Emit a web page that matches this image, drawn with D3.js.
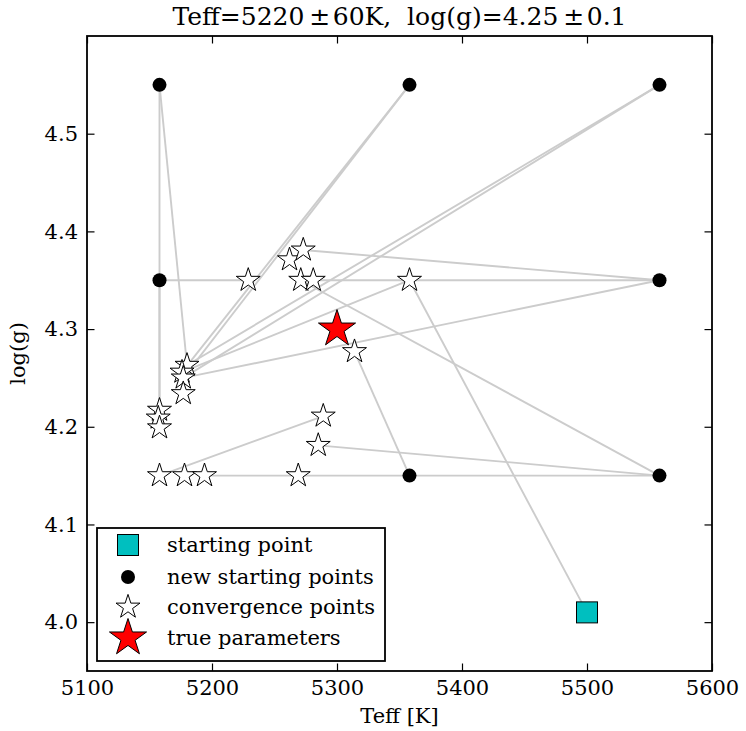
<!DOCTYPE html>
<html><head><meta charset="utf-8">
<script src="https://cdn.jsdelivr.net/npm/d3@7/dist/d3.min.js"></script>
<style>body{margin:0;background:#fff}</style>
</head><body>
<svg id="c" width="746" height="731"></svg>
<script>
// ---- data ----
const titleText = "Teff=5220\u2009\u00B1\u200a60K,  log(g)=4.25\u2009\u00B1\u200a0.1";
const xLabel = "Teff [K]";
const yLabel = "log(g)";
const xTicks = [5100, 5200, 5300, 5400, 5500, 5600];
const yTicks = [4.0, 4.1, 4.2, 4.3, 4.4, 4.5];
const xDomain = [5100, 5600];
const yDomain = [3.95, 4.6];

const startTeff = [5500];
const startLogg = [4.01];

const newTeff = [5158, 5358, 5558, 5158, 5558, 5358, 5558];
const newLogg = [4.55, 4.55, 4.55, 4.35, 4.35, 4.15, 4.15];

const convTeff = [5180, 5176, 5177, 5177, 5158, 5157, 5158,
                  5229, 5262, 5273, 5271, 5281, 5358, 5314,
                  5289, 5285, 5158, 5178, 5194, 5269];
const convLogg = [4.263, 4.256, 4.250, 4.234, 4.217, 4.209, 4.199,
                  4.350, 4.371, 4.381, 4.350, 4.350, 4.350, 4.277,
                  4.211, 4.181, 4.150, 4.150, 4.150, 4.150];

const trueTeff = [5300];
const trueLogg = [4.30];

// connection lines: start (teff, logg) -> end (teff, logg)
const lineT0 = [5158, 5158, 5358, 5358, 5558, 5558, 5158, 5158, 5558, 5558, 5558, 5358, 5500, 5558, 5558, 5558, 5358, 5358, 5158];
const lineG0 = [4.55, 4.55, 4.55, 4.55, 4.55, 4.55, 4.35, 4.35, 4.35, 4.35, 4.35, 4.35, 4.01, 4.15, 4.15, 4.15, 4.15, 4.15, 4.15];
const lineT1 = [5158, 5180, 5177, 5176, 5180, 5177, 5229, 5158, 5273, 5281, 5177, 5176, 5358, 5271, 5285, 5358, 5314, 5194, 5289];
const lineG1 = [4.217, 4.263, 4.250, 4.256, 4.263, 4.250, 4.350, 4.209, 4.381, 4.350, 4.250, 4.256, 4.350, 4.350, 4.181, 4.150, 4.277, 4.150, 4.211];

const legendLabels = ["starting point", "new starting points", "convergence points", "true parameters"];

// ---- layout ----
const FONT = "'DejaVu Serif', serif";
const L = 87, R = 712, T = 36, B = 671;
const svg = d3.select("#c");
const x = d3.scaleLinear().domain(xDomain).range([L, R]);
const y = d3.scaleLinear().domain(yDomain).range([B, T]);

function starPath(Ro) {
  const Ri = Ro * 0.381966;
  const pts = [];
  for (let i = 0; i < 10; i++) {
    const r = i % 2 === 0 ? Ro : Ri;
    const a = -Math.PI / 2 + i * Math.PI / 5;
    pts.push([r * Math.cos(a), r * Math.sin(a)]);
  }
  return "M" + pts.map(p => p[0].toFixed(2) + "," + p[1].toFixed(2)).join("L") + "Z";
}

// lines
const lines = lineT0.map((t, i) => ({t0: t, g0: lineG0[i], t1: lineT1[i], g1: lineG1[i]}));
svg.append("g").selectAll("line").data(lines).join("line")
  .attr("x1", d => x(d.t0)).attr("y1", d => y(d.g0))
  .attr("x2", d => x(d.t1)).attr("y2", d => y(d.g1))
  .attr("stroke", "#cccccc").attr("stroke-width", 1.9);

// new starting points
svg.append("g").selectAll("circle").data(newTeff.map((t, i) => ({t, g: newLogg[i]}))).join("circle")
  .attr("cx", d => x(d.t)).attr("cy", d => y(d.g)).attr("r", 7).attr("fill", "#000");

// convergence stars
svg.append("g").selectAll("path").data(convTeff.map((t, i) => ({t, g: convLogg[i]}))).join("path")
  .attr("d", starPath(12.6))
  .attr("transform", d => `translate(${x(d.t)},${y(d.g)})`)
  .attr("fill", "#fff").attr("stroke", "#000").attr("stroke-width", 1);

// starting point square
svg.append("g").selectAll("rect").data(startTeff.map((t, i) => ({t, g: startLogg[i]}))).join("rect")
  .attr("x", d => x(d.t) - 10.5).attr("y", d => y(d.g) - 10.5)
  .attr("width", 21).attr("height", 21)
  .attr("fill", "#00bfbf").attr("stroke", "#000").attr("stroke-width", 1);

// true parameters
svg.append("g").selectAll("path").data(trueTeff.map((t, i) => ({t, g: trueLogg[i]}))).join("path")
  .attr("d", starPath(19.5))
  .attr("transform", d => `translate(${x(d.t)},${y(d.g)})`)
  .attr("fill", "#ff0000").attr("stroke", "#000").attr("stroke-width", 1);

// axes (ticks inside, all four sides)
const tickLen = 7.5;
const axB = svg.append("g").attr("transform", `translate(0,${B})`)
  .call(d3.axisBottom(x).tickValues(xTicks).tickSize(-tickLen).tickPadding(9).tickFormat(d3.format("d")));
const axT = svg.append("g").attr("transform", `translate(0,${T})`)
  .call(d3.axisTop(x).tickValues(xTicks).tickSize(-tickLen).tickFormat(""));
const axL = svg.append("g").attr("transform", `translate(${L},0)`)
  .call(d3.axisLeft(y).tickValues(yTicks).tickSize(-tickLen).tickPadding(9).tickFormat(d3.format(".1f")));
const axR = svg.append("g").attr("transform", `translate(${R},0)`)
  .call(d3.axisRight(y).tickValues(yTicks).tickSize(-tickLen).tickFormat(""));
[axB, axT, axL, axR].forEach(a => {
  a.select(".domain").remove();
  a.selectAll(".tick line").attr("stroke", "#000").attr("stroke-width", 1.2);
  a.selectAll("text").attr("font-family", FONT).attr("font-size", 21).attr("fill", "#000");
});

// frame
svg.append("rect").attr("x", L).attr("y", T).attr("width", R - L).attr("height", B - T)
  .attr("fill", "none").attr("stroke", "#000").attr("stroke-width", 1.8);

// title and labels
svg.append("text").attr("x", (L + R) / 2).attr("y", 25).attr("text-anchor", "middle")
  .style("white-space", "pre")
  .attr("font-family", FONT).attr("font-size", 25).text(titleText);
svg.append("text").attr("x", (L + R) / 2).attr("y", 723).attr("text-anchor", "middle")
  .attr("font-family", FONT).attr("font-size", 21).text(xLabel);
svg.append("text").attr("transform", `translate(25,${(T + B) / 2}) rotate(-90)`).attr("text-anchor", "middle")
  .attr("font-family", FONT).attr("font-size", 21).text(yLabel);

// legend
const lg = svg.append("g");
lg.append("rect").attr("x", 97).attr("y", 528).attr("width", 288).attr("height", 133)
  .attr("fill", "#fff").attr("stroke", "#000").attr("stroke-width", 1.8);
const rowY = [545, 577, 607, 638];
const mx = 128;
lg.append("rect").attr("x", mx - 10.5).attr("y", rowY[0] - 10.5).attr("width", 21).attr("height", 21)
  .attr("fill", "#00bfbf").attr("stroke", "#000").attr("stroke-width", 1);
lg.append("circle").attr("cx", mx).attr("cy", rowY[1]).attr("r", 7).attr("fill", "#000");
lg.append("path").attr("d", starPath(12.6)).attr("transform", `translate(${mx},${rowY[2]})`)
  .attr("fill", "#fff").attr("stroke", "#000").attr("stroke-width", 1);
lg.append("path").attr("d", starPath(19.5)).attr("transform", `translate(${mx},${rowY[3]})`)
  .attr("fill", "#ff0000").attr("stroke", "#000").attr("stroke-width", 1);
lg.selectAll("text.lab").data(legendLabels).join("text").attr("class", "lab")
  .attr("x", 167).attr("y", (d, i) => rowY[i] + 7)
  .attr("font-family", FONT).attr("font-size", 21).text(d => d);
</script>
</body></html>
